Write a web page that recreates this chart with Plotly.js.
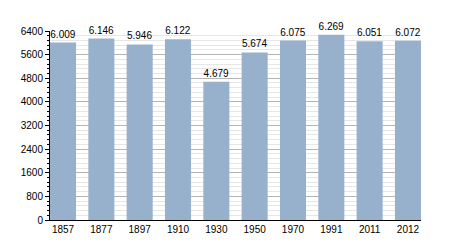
<!DOCTYPE html>
<html><head><meta charset="utf-8">
<script src="https://cdn.plot.ly/plotly-3.0.1.min.js"></script>
<style>html,body{margin:0;padding:0;background:#fff}</style>
</head><body><div id="chart" style="width:450px;height:250px"></div>
<script>
const years = ["1857","1877","1897","1910","1930","1950","1970","1991","2011","2012"];
const population = [6009, 6146, 5946, 6122, 4679, 5674, 6075, 6269, 6051, 6072];
const yTicks = [0, 800, 1600, 2400, 3200, 4000, 4800, 5600, 6400];

Plotly.newPlot('chart', [{
  type: 'bar',
  x: years,
  y: population,
  marker: {color: '#97b1cc', line: {width: 0}},
  texttemplate: '%{y:,}',
  textposition: 'outside',
  cliponaxis: false,
  textfont: {family: 'Liberation Sans, Arial, sans-serif', size: 10, color: '#000'},
  hoverinfo: 'none'
}], {
  width: 450, height: 250,
  margin: {l: 50, r: 29, t: 31, b: 30, pad: 0},
  separators: ',.',
  bargap: 0.32,
  paper_bgcolor: '#fff', plot_bgcolor: '#fff',
  showlegend: false,
  font: {family: 'Liberation Sans, Arial, sans-serif', size: 10, color: '#000'},
  xaxis: {
    type: 'category', range: [-0.34, 9.34],
    showline: true, linecolor: '#000', linewidth: 1,
    ticks: '', showgrid: false, zeroline: false,
    tickfont: {size: 10}
  },
  yaxis: {
    range: [0, 6400], tickvals: yTicks, ticktext: yTicks.map(String),
    showline: true, linecolor: '#000', linewidth: 1,
    ticks: 'outside', ticklen: 4, tickcolor: '#000',
    showgrid: true, gridcolor: '#b4b4b4', gridwidth: 1,
    zeroline: false,
    minor: {dtick: 160, tick0: 0, showgrid: true, gridcolor: '#e6e6e6', gridwidth: 1, ticks: 'outside', ticklen: 2, tickcolor: '#000'},
    tickfont: {size: 10}
  }
}, {staticPlot: true});
</script></body></html>
